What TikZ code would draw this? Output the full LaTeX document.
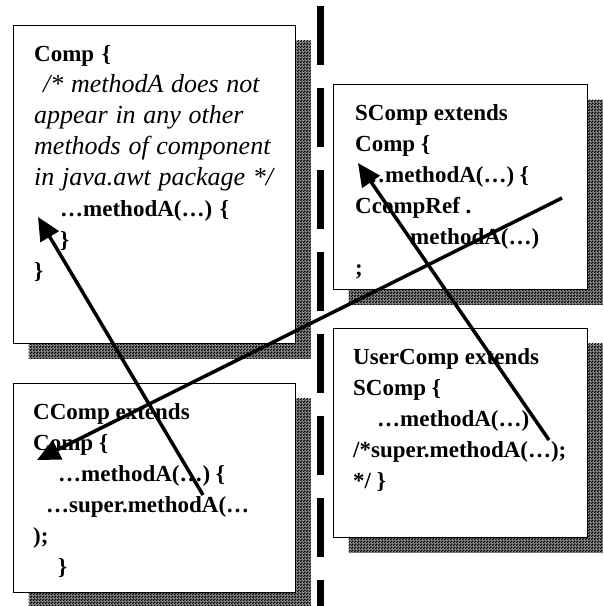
\documentclass[tikz,border=0pt]{standalone}
\usepackage{fontspec}
\setmainfont{Liberation Serif}
\usetikzlibrary{arrows.meta,positioning,shadows,patterns}

% fine checkerboard for the shadows
\pgfdeclarepatternformonly{halftone}{\pgfpointorigin}{\pgfpoint{3pt}{3pt}}{\pgfpoint{3pt}{3pt}}{
    \pgfpathrectangle{\pgfpointorigin}{\pgfpoint{1.7pt}{1.7pt}}
    \pgfpathrectangle{\pgfpoint{1.5pt}{1.5pt}}{\pgfpoint{1.7pt}{1.7pt}}
    \pgfusepath{fill}
}
\newcommand\comment[1]{{\mdseries\itshape\fontsize{26}{31}\selectfont #1}}

\begin{document}
\begin{tikzpicture}[x=1pt, y=-1pt,
    classbox/.style={rectangle, draw=black, line width=1.2pt, fill=white, anchor=north west, inner sep=0pt,
        drop shadow={shadow xshift=15pt, shadow yshift=-15pt, opacity=1, fill=black!45,
            postaction={pattern=halftone, pattern color=black}}},
    code/.style={inner sep=0pt, align=left, font=\fontsize{23}{31}\selectfont\bfseries},
    call/.style={line width=3.5pt, -{Triangle[length=23pt,width=21pt]}},
    divider/.style={line width=7pt, dash pattern=on 59pt off 23pt}
]
    \useasboundingbox (0,0) rectangle (604,606);

    % package boundary
    \coordinate (divtop) at (320,6);
    \coordinate (divbot) at (320,606);
    \draw [divider] (divtop) -- (divbot);

    % the four classes
    \node[classbox, minimum width=282pt, minimum height=318pt] (comp) at (13,25) {};
    \node[classbox, minimum width=254pt, minimum height=205pt] (scomp) at (333,84) {};
    \node[classbox, minimum width=282pt, minimum height=209pt] (ccomp) at (13,383) {};
    \node[classbox, minimum width=254pt, minimum height=209pt] (usercomp) at (333,328) {};

    \node[code, text width=244pt, below right=20pt and 21pt of comp.north west] (comptext) {
        Comp \{\\
        \hspace*{9pt}\comment{\makebox[235pt][s]{/* methodA does not}}\\
        \comment{\makebox[244pt][s]{appear in any other}}\\
        \comment{\makebox[244pt][s]{methods of component}}\\
        \comment{in java.awt package */}\\
        \hspace*{26pt}…methodA(…) \{\\
        \hspace*{26pt}\}\\
        \}};
    \node[code, below right=20pt and 22pt of scomp.north west] (scomptext) {
        SComp extends\\
        Comp \{\\
        \hspace*{7pt}…methodA(…) \{\\
        CcompRef .\\
        \hspace*{55pt}methodA(…)\\
        ;};
    \node[code, below right=20pt and 20pt of ccomp.north west] (ccomptext) {
        CComp extends\\
        Comp \{\\
        \hspace*{25pt}…methodA(…) \{\\
        \hspace*{13pt}…super.methodA(…\\
        );\\
        \hspace*{25pt}\}};
    \node[code, below right=20pt and 20pt of usercomp.north west] (usertext) {
        UserComp extends\\
        SComp \{\\
        \hspace*{24pt}…methodA(…)\\
        /*super.methodA(…);\\
        */ \}};

    % call sites and the methods they reach
    \coordinate (compA) at (38,217);
    \coordinate (scompA) at (358,163);
    \coordinate (ccompA) at (37,460);
    \coordinate (ccompsuper) at (203,495);
    \coordinate (usersuper) at (549,440);
    \coordinate (scompref) at (562,198);

    \draw [call] (ccompsuper) -- (compA);
    \draw [call] (usersuper) -- (scompA);
    \draw [call] (scompref) -- (ccompA);
\end{tikzpicture}
\end{document}
